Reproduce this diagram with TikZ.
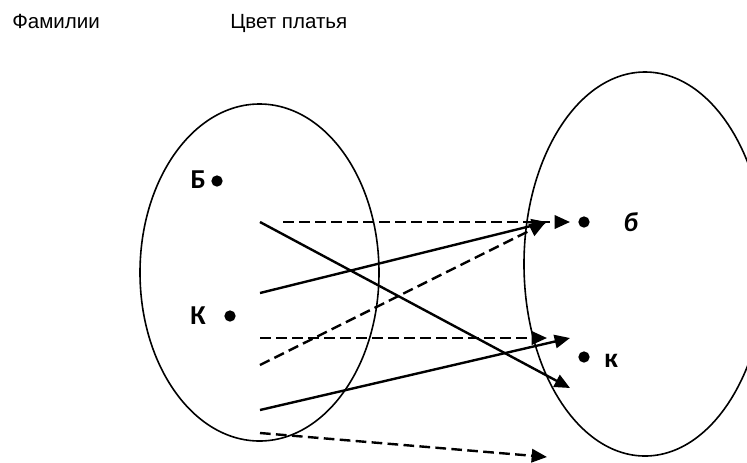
\documentclass[tikz,border=0pt]{standalone}
\usepackage{fontspec}
\setmainfont{Liberation Sans}
\newfontfamily\calibri{Carlito}
\usetikzlibrary{arrows.meta, positioning}

\begin{document}
\begin{tikzpicture}[x=0.75pt, y=-0.75pt,
  head/.style={font=\fontsize{15.4}{18}\selectfont, inner sep=0pt},
  elem/.style={circle, fill=black, inner sep=0pt, minimum size=8.5pt},
  lbl/.style={font=\calibri\bfseries\fontsize{20.5}{24}\selectfont,
    inner sep=0pt},
  solidarr/.style={-{Triangle[length=11.5pt, width=10pt]}, line width=1.8pt},
  dasharr/.style={solidarr, dash pattern=on 8pt off 4pt}
]
\useasboundingbox (0,0) rectangle (747,462);

% Headings
\node[head, anchor=base west] (famhead) at (12,28) {Фамилии};
\node[head, anchor=base west] (colhead) at (230,28) {Цвет платья};

% Sets
\draw[line width=1.2pt] (259.5,272.5) ellipse [x radius=119.5, y radius=168.5];
\begin{scope}
  \clip (0,0) rectangle (747,462);
  \draw[line width=1.2pt] (645,264) ellipse [x radius=121, y radius=192];
\end{scope}

% Elements, left set
\node[elem] (famB) at (217,181) {};
\node[elem] (famK) at (230,316) {};
\node[lbl, anchor=base east] (labB) at (206,188) {Б};
\node[lbl, anchor=base east] (labK) at (206,324) {К};

% Elements, right set
\node[elem] (colb) at (584,222) {};
\node[elem] (colk) at (584,357) {};
\node[lbl, anchor=base west] (labb) at (623,231) {\itshape б};
\node[lbl, anchor=base west] (labk) at (604,367) {к};

% Arrow ends
\coordinate (s1) at (283,222);  \coordinate (e1) at (570,222);
\coordinate (s2) at (260,293);  \coordinate (e2) at (547,222);
\coordinate (s3) at (260,365);  \coordinate (e3) at (545,223);
\coordinate (s4) at (260,222);  \coordinate (e4) at (570,388);
\coordinate (s5) at (260,338);  \coordinate (e5) at (547,338);
\coordinate (s6) at (260,410);  \coordinate (e6) at (570,338);
\coordinate (s7) at (260,433);  \coordinate (e7) at (547,457);

% Arrows
\draw[dasharr] (s1) -- (e1);
\draw[solidarr] (s2) -- (e2);
\draw[dasharr] (s3) -- (e3);
\draw[solidarr] (s4) -- (e4);
\draw[dasharr] (s5) -- (e5);
\draw[solidarr] (s6) -- (e6);
\draw[dasharr] (s7) -- (e7);
\end{tikzpicture}
\end{document}
